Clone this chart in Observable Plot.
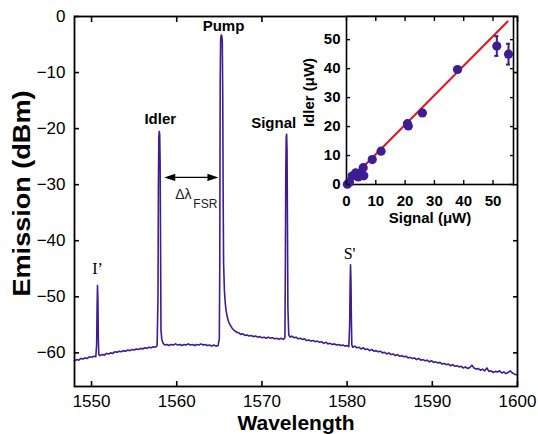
<!DOCTYPE html>
<html><head><meta charset="utf-8">
<script src="https://cdn.jsdelivr.net/npm/d3@7"></script>
<script src="https://cdn.jsdelivr.net/npm/@observablehq/plot@0.6"></script>
<style>
body{margin:0;background:#fff;}
#chart{position:relative;width:538px;height:434px;}
#chart svg{position:absolute;left:0;top:0;}
</style></head><body><div id="chart"></div>
<script>
// ---- main spectrum ----
const spectrumWavelength = [
 1548.0,1548.25,1548.5,1548.75,1549.0,1549.25,1549.5,1549.75,1550.0,1550.25,1550.5,
 1550.6,1550.65,1550.7,1550.75,1550.8,1550.85,
 1551.0,1551.25,1551.5,1551.75,1552.0,1552.25,1552.5,1552.75,1553.0,1553.25,1553.5,1553.75,1554.0,1554.25,1554.5,1554.75,1555.0,1555.25,1555.5,1555.75,1556.0,1556.25,1556.5,1556.75,1557.0,1557.25,1557.5,1557.7,
 1557.8,1557.85,1557.9,1557.95,1558.0,1558.05,1558.1,1558.15,1558.25,1558.4,1558.6,
 1558.85,1559.1,1559.35,1559.6,1559.85,1560.1,1560.35,1560.6,1560.85,1561.1,1561.35,1561.6,1561.85,1562.1,1562.35,1562.6,1562.85,1563.1,1563.35,1563.6,1563.85,1564.1,1564.35,1564.6,1564.85,1565.0,
 1565.05,1565.1,1565.15,1565.2,1565.25,1565.3,1565.35,1565.4,1565.45,1565.5,1565.6,1565.7,1565.8,1565.95,1566.1,1566.3,1566.5,1566.75,
 1567.0,1567.25,1567.5,1567.75,1568.0,1568.25,1568.5,1568.75,1569.0,1569.25,1569.5,1569.75,1570.0,1570.25,1570.5,1570.75,1571.0,1571.25,1571.5,1571.75,1572.0,1572.25,1572.5,1572.7,
 1572.75,1572.8,1572.85,1572.9,1572.95,1573.0,1573.05,1573.15,1573.3,
 1573.5,1573.75,1574.0,1574.25,1574.5,1574.75,1575.0,1575.25,1575.5,1575.75,1576.0,1576.25,1576.5,1576.75,1577.0,1577.25,1577.5,1577.75,1578.0,1578.25,1578.5,1578.75,1579.0,1579.25,1579.5,1579.75,1580.0,1580.2,
 1580.3,1580.35,1580.4,1580.45,1580.5,1580.55,1580.65,
 1580.9,1581.15,1581.4,1581.65,1581.9,1582.15,1582.4,1582.65,1582.9,1583.15,1583.4,1583.65,1583.9,1584.15,1584.4,1584.65,1584.9,1585.15,1585.4,1585.65,1585.9,
 1586.15,1586.4,1586.65,1586.9,1587.15,1587.4,1587.65,1587.9,1588.15,1588.4,1588.65,1588.9,1589.15,1589.4,1589.65,1589.9,1590.15,1590.4,1590.65,1590.9,
 1591.15,1591.4,1591.65,1591.9,1592.15,1592.4,1592.65,1592.9,1593.15,1593.4,1593.65,1593.9,1594.15,1594.4,1594.65,1594.9,1595.15,1595.4,1595.65,1595.9,
 1596.15,1596.4,1596.65,1596.9,1597.15,1597.4,1597.65,1597.9,1598.15,1598.4,1598.65,1598.9,1599.15,1599.4,1599.65,1599.9,1600.0
];
const spectrumEmission = [
 -61.4,-61.2,-61.3,-61.0,-61.1,-60.9,-61.0,-60.7,-60.8,-60.6,-60.7,
 -58.5,-52.0,-48.0,-50.5,-57.5,-60.3,
 -60.5,-60.3,-60.4,-60.1,-60.2,-60.0,-60.1,-59.8,-59.9,-59.7,-59.8,-59.6,-59.7,-59.5,-59.6,-59.4,-59.5,-59.3,-59.4,-59.2,-59.3,-59.1,-59.2,-59.0,-59.1,-58.9,-59.0,-58.7,
 -50,-30,-21.5,-20.5,-21,-26,-40,-56,-57.6,-58.3,-58.6,
 -58.5,-58.7,-58.5,-58.6,-58.4,-58.6,-58.5,-58.7,-58.5,-58.6,-58.4,-58.6,-58.5,-58.7,-58.5,-58.6,-58.4,-58.6,-58.5,-58.7,-58.6,-58.8,-58.6,-58.8,-58.7,-57.5,
 -45,-12,-4.5,-3.4,-3.3,-3.6,-4.5,-14,-32,-44,-49,-51.2,-52.5,-53.7,-54.5,-55.1,-55.6,-56.0,
 -56.3,-56.4,-56.7,-56.6,-56.9,-56.8,-57.0,-56.9,-57.1,-57.0,-57.2,-57.1,-57.3,-57.2,-57.4,-57.2,-57.4,-57.3,-57.5,-57.4,-57.6,-57.4,-57.6,-57.3,
 -45,-28,-21.5,-21,-24,-38,-52,-56.8,-57.2,
 -57.0,-57.3,-57.2,-57.5,-57.4,-57.6,-57.5,-57.8,-57.7,-57.9,-57.8,-58.0,-57.9,-58.1,-58.0,-58.3,-58.1,-58.4,-58.3,-58.5,-58.4,-58.6,-58.5,-58.7,-58.6,-58.8,-58.7,-58.9,
 -55,-48,-44.3,-47,-54,-58.5,-59.0,
 -58.8,-59.1,-59.0,-59.3,-59.1,-59.4,-59.3,-59.6,-59.4,-59.7,-59.6,-59.8,-59.7,-60.0,-59.9,-60.2,-60.0,-60.3,-60.2,-60.5,-60.3,
 -60.6,-60.5,-60.7,-60.6,-60.9,-60.8,-61.0,-60.9,-61.2,-61.0,-61.3,-61.2,-61.4,-61.3,-61.6,-61.4,-61.7,-61.6,-61.8,-61.7,
 -62.0,-61.9,-62.1,-62.0,-62.3,-62.1,-62.4,-62.3,-62.5,-62.4,-62.7,-62.5,-62.8,-62.6,-62.2,-62.7,-62.9,-62.8,-63.1,-62.9,
 -63.2,-62.7,-63.3,-63.2,-63.5,-63.3,-63.4,-63.2,-63.6,-63.4,-63.7,-63.5,-63.2,-63.6,-63.8,-63.9,-64.0
];
if (spectrumWavelength.length !== spectrumEmission.length) throw new Error("length mismatch " + spectrumWavelength.length + " vs " + spectrumEmission.length);

const peakNames = ["I’", "Idler", "Pump", "Signal", "S'"];
const peakWavelength = [1550.7, 1557.95, 1565.25, 1572.9, 1580.4];
const peakEmission = [-48, -20.5, -3.3, -21, -44.3];
const fsrLevel = -28.7;
const xTicks = [1550, 1560, 1570, 1580, 1590, 1600];
const yTicks = [0, -10, -20, -30, -40, -50, -60];

// ---- inset: idler vs signal power (µW) ----
const signalPower = [0.3, 1.0, 1.9, 3.1, 4.0, 4.8, 5.7, 5.9, 8.8, 11.8, 20.8, 21.1, 25.9, 37.9, 51.3, 55.3];
const idlerPower  = [0.1, 0.8, 2.9, 4.0, 2.6, 4.0, 5.8, 3.0, 8.6, 11.5, 21.0, 20.2, 24.7, 39.7, 47.8, 45.0];
const idlerError  = [0.5, 0.5, 0.5, 0.5, 0.5, 0.5, 0.6, 0.6, 0.7, 0.8, 1.0, 1.0, 1.0, 1.0, 3.4, 3.6];
const fitSignal = [0, 55];
const fitIdler = [0.25, 56.3];
const insetTicks = [0, 10, 20, 30, 40, 50];

// ---- build ----
const font = "'Liberation Sans', Arial, Helvetica, sans-serif";
const serif = "'Liberation Serif', 'Times New Roman', serif";
const purple = "#3d1c94";
const spectrum = spectrumWavelength.map((w, i) => ({w, e: spectrumEmission[i]}));
const peaks = peakNames.map((n, i) => ({n, w: peakWavelength[i], e: peakEmission[i]}));
const labelLook = {
  "I’":    {family: serif, weight: "normal", size: 16, dx: 0,   dy: -17},
  "Idler": {family: font,  weight: "bold",   size: 15, dx: 1,   dy: -12},
  "Pump":  {family: font,  weight: "bold",   size: 15, dx: 2,   dy: -9},
  "Signal":{family: font,  weight: "bold",   size: 15, dx: -13, dy: -11},
  "S'":    {family: serif, weight: "normal", size: 16, dx: -1,  dy: -11}
};
const arrowHead = {draw(ctx) { ctx.moveTo(0, 0); ctx.lineTo(-11, -3.6); ctx.lineTo(-11, 3.6); ctx.closePath(); }};
const midFsr = (peakWavelength[1] + peakWavelength[2]) / 2;

const main = Plot.plot({
  width: 538, height: 434,
  marginLeft: 74, marginRight: 21, marginTop: 16, marginBottom: 48,
  style: {fontFamily: font, background: "white", color: "black"},
  x: {domain: [1548, 1600]},
  y: {domain: [-66, 0]},
  marks: [
    Plot.line(spectrum, {x: "w", y: "e", stroke: purple, strokeWidth: 1.6}),
    Plot.frame({stroke: "black", strokeWidth: 1.8}),
    Plot.axisX(xTicks, {anchor: "bottom", tickSize: -5, tickPadding: 13, fontSize: 17, label: null, strokeWidth: 1.6, tickFormat: d => String(d)}),
    Plot.axisX(xTicks, {anchor: "top", tickSize: -5, tickFormat: () => "", label: null, strokeWidth: 1.6}),
    Plot.axisY(yTicks, {anchor: "left", tickSize: -5, tickPadding: 14, fontSize: 17, label: null, strokeWidth: 1.6}),
    Plot.axisY(yTicks, {anchor: "right", tickSize: -5, tickFormat: () => "", label: null, strokeWidth: 1.6}),
    ...peaks.map(p => {
      const s = labelLook[p.n];
      return Plot.text([p], {x: "w", y: "e", text: "n", dx: s.dx, dy: s.dy, fontFamily: s.family, fontWeight: s.weight, fontSize: s.size, fill: "black"});
    }),
    Plot.ruleY([fsrLevel], {x1: () => peakWavelength[1], x2: () => peakWavelength[2], y: d => d, insetLeft: 9, insetRight: 7, stroke: "black", strokeWidth: 1.4}),
    Plot.dot([fsrLevel], {x: () => peakWavelength[1], y: d => d, symbol: arrowHead, rotate: 180, dx: 5, fill: "black", stroke: "none"}),
    Plot.dot([fsrLevel], {x: () => peakWavelength[2], y: d => d, symbol: arrowHead, dx: -3, fill: "black", stroke: "none"}),
    Plot.text([fsrLevel], {x: () => midFsr, y: d => d, text: () => "Δλ", dx: -7, dy: 17, fontSize: 14, fill: "#222"}),
    Plot.text([fsrLevel], {x: () => midFsr, y: d => d, text: () => "FSR", dx: 15, dy: 27, fontSize: 12, fill: "#222"}),
    Plot.text(["Wavelength"], {frameAnchor: "bottom", lineAnchor: "middle", textAnchor: "middle", dy: 37, fontSize: 21, fontWeight: "bold", fill: "black"}),
    Plot.text(["Emission (dBm)"], {frameAnchor: "left", lineAnchor: "middle", textAnchor: "middle", rotate: -90, dx: -52, dy: -8, fontSize: 23, fontWeight: "bold", fill: "black"})
  ]
});

const points = signalPower.map((s, i) => ({s, i: idlerPower[i], err: idlerError[i]}));
const fit = fitSignal.map((s, i) => ({s, i: fitIdler[i]}));
const inset = Plot.plot({
  width: 538, height: 434,
  marginLeft: 346, marginRight: 25, marginTop: 16, marginBottom: 250,
  style: {fontFamily: font, background: "transparent", color: "black", overflow: "visible"},
  x: {domain: [0, 57]},
  y: {domain: [0, 58]},
  marks: [
    Plot.frame({fill: "white", stroke: "black", strokeWidth: 1.6}),
    Plot.line(fit, {x: "s", y: "i", stroke: "#e3141f", strokeWidth: 2}),
    Plot.ruleX(points, {x: "s", y1: d => d.i - d.err, y2: d => d.i + d.err, stroke: purple, strokeWidth: 2}),
    Plot.ruleY(points.filter(d => d.err > 2), {y: d => d.i - d.err, x1: d => d.s - 0.7, x2: d => d.s + 0.7, stroke: purple, strokeWidth: 2}),
    Plot.ruleY(points.filter(d => d.err > 2), {y: d => d.i + d.err, x1: d => d.s - 0.7, x2: d => d.s + 0.7, stroke: purple, strokeWidth: 2}),
    Plot.dot(points, {x: "s", y: "i", r: 4.6, fill: purple, stroke: "none"}),
    Plot.axisX(insetTicks, {anchor: "bottom", tickSize: -4, tickPadding: 15, fontSize: 15, fontWeight: "bold", label: null, strokeWidth: 1.4}),
    Plot.axisX(insetTicks, {anchor: "top", tickSize: -4, tickFormat: () => "", label: null, strokeWidth: 1.4}),
    Plot.axisY(insetTicks, {anchor: "left", tickSize: -4, tickPadding: 10, fontSize: 15, fontWeight: "bold", label: null, strokeWidth: 1.4}),
    Plot.axisY(insetTicks, {anchor: "right", tickSize: -4, tickFormat: () => "", label: null, strokeWidth: 1.4}),
    Plot.text(["Signal (μW)"], {frameAnchor: "bottom", lineAnchor: "middle", textAnchor: "middle", dy: 34, fontSize: 15, fontWeight: "bold", fill: "black"}),
    Plot.text(["Idler (μW)"], {frameAnchor: "left", lineAnchor: "middle", textAnchor: "middle", rotate: -90, dx: -37, dy: -8, fontSize: 15, fontWeight: "bold", fill: "black"})
  ]
});
inset.style.pointerEvents = "none";

const chart = document.getElementById("chart");
chart.appendChild(main);
chart.appendChild(inset);
d3.select(main).selectAll("text").filter(function() { return this.textContent === "Emission (dBm)"; })
  .attr("textLength", 206).attr("lengthAdjust", "spacingAndGlyphs");
</script></body></html>
